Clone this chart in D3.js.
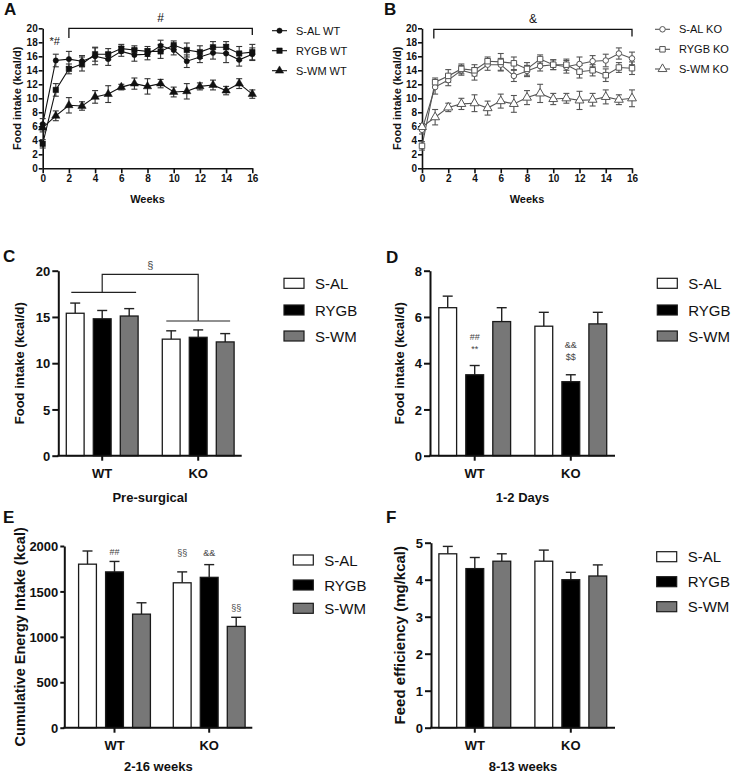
<!DOCTYPE html>
<html><head><meta charset="utf-8">
<script src="https://cdn.jsdelivr.net/npm/d3@7/dist/d3.min.js"></script>
<style>
body{margin:0;background:#fff}
svg text{font-family:"Liberation Sans",Arial,sans-serif}
</style>
</head><body>
<svg id="c" width="731" height="774"></svg>
<script>
// ---------- DATA ----------
const weeks = [0,1,2,3,4,5,6,7,8,9,10,11,12,13,14,15,16];
const weekTicks = [0,2,4,6,8,10,12,14,16];
const intakeTicks = [0,2,4,6,8,10,12,14,16,18,20];

// Panel A (WT)
const alWT    = [6.3,15.4,15.6,15.3,16.0,15.6,16.7,16.2,16.3,17.5,16.9,15.3,15.9,16.5,16.4,15.5,16.3];
const alWTerr = [0.8,0.9,1.1,0.8,1.2,0.9,0.7,0.9,0.8,0.8,0.7,0.9,0.8,0.9,1.3,0.9,0.9];
const rygbWT    = [3.5,11.2,14.2,14.9,16.3,16.3,17.1,16.9,16.7,16.7,17.6,16.9,16.6,17.3,17.3,16.4,16.6];
const rygbWTerr = [0.6,0.9,0.7,1.0,1.0,0.8,0.6,0.6,0.7,1.0,0.6,1.0,0.9,0.8,0.8,1.0,1.1];
const wmWT    = [5.8,7.5,9.0,8.9,10.2,10.6,11.6,12.1,11.7,12.1,10.9,11.0,11.7,11.9,11.1,12.1,10.6];
const wmWTerr = [0.6,0.7,1.1,0.6,0.9,1.2,0.4,0.8,1.1,0.6,0.7,1.1,0.5,0.7,0.6,0.7,0.6];
const legendA = ["S-AL WT","RYGB WT","S-WM WT"];

// Panel B (KO)
const alKO    = [5.5,11.6,12.6,14.0,13.5,14.8,14.8,13.2,13.9,14.6,14.8,14.5,14.9,15.3,15.4,16.4,15.7];
const alKOerr = [0.6,1.0,0.8,0.7,0.9,0.8,0.9,0.8,0.8,0.7,0.7,0.9,1.0,0.8,0.9,0.8,0.9];
const rygbKO    = [3.2,12.3,13.2,14.2,14.0,15.3,15.2,15.0,14.2,15.6,14.8,14.8,13.8,14.0,13.3,14.4,14.3];
const rygbKOerr = [0.6,0.6,0.9,0.7,0.8,0.6,1.2,0.9,0.9,0.6,0.7,0.8,0.9,0.8,0.9,0.7,0.9];
const wmKO    = [5.9,7.3,8.7,9.2,9.3,8.6,9.6,9.2,10.1,10.7,9.9,10.0,9.7,9.8,10.2,9.8,10.0];
const wmKOerr = [0.5,1.1,0.6,0.8,1.2,1.0,1.0,1.2,1.0,1.3,0.8,0.7,1.3,0.9,1.0,0.7,1.2];
const legendB = ["S-AL KO","RYGB KO","S-WM KO"];

// Bar panels
const groups = ["WT","KO"];
const barSeries = ["S-AL","RYGB","S-WM"];
const preSurgical    = [[15.4,14.8,15.1],[12.6,12.8,12.3]];
const preSurgicalErr = [[1.1,0.9,0.8],[0.9,0.8,0.9]];
const days12    = [[6.4,3.5,5.8],[5.6,3.2,5.7]];
const days12Err = [[0.5,0.4,0.6],[0.6,0.3,0.5]];
const cumEnergy    = [[1800,1715,1250],[1595,1655,1115]];
const cumEnergyErr = [[145,115,125],[120,140,100]];
const feedEff    = [[4.7,4.3,4.5],[4.5,4.0,4.1]];
const feedEffErr = [[0.2,0.3,0.2],[0.3,0.2,0.3]];
const ticksC = [0,5,10,15,20];
const ticksD = [0,2,4,6,8];
const ticksE = [0,500,1000,1500,2000];
const ticksF = [0,1,2,3,4,5];

// ---------- DRAW ----------
const svg = d3.select("#c");
const FONT = '"Liberation Sans",Arial,sans-serif';
const plain = d => String(d);

function label(x, y, t, size, opts={}) {
  const el = svg.append("text").attr("x", x).attr("y", y).text(t)
    .attr("font-size", size).attr("font-weight", opts.weight || "bold")
    .attr("fill", opts.fill || "#111")
    .attr("text-anchor", opts.anchor || "middle");
  if (opts.rotate) el.attr("transform", `rotate(-90,${x},${y})`);
  return el;
}

function styleAxis(g, w, fs) {
  g.select(".domain").attr("stroke", "#111").attr("stroke-width", w);
  g.selectAll(".tick line").attr("stroke", "#111").attr("stroke-width", w);
  g.selectAll(".tick text").attr("font-size", fs).attr("font-weight", "bold")
    .attr("fill", "#111").attr("font-family", FONT);
}

const shapes = [d3.symbolCircle, d3.symbolSquare, d3.symbolTriangle];

function linePanel(cfg) {
  const x = d3.scaleLinear().domain([0,16]).range([cfg.x0, cfg.x1]);
  const y = d3.scaleLinear().domain([0,20]).range([cfg.y0, cfg.y1]);
  const g = svg.append("g");
  const ax = g.append("g").attr("transform", `translate(0,${cfg.y0})`)
    .call(d3.axisBottom(x).tickValues(weekTicks).tickFormat(plain).tickSize(5).tickSizeOuter(0).tickPadding(2));
  styleAxis(ax, 1.6, 10);
  const ay = g.append("g").attr("transform", `translate(${cfg.x0},0)`)
    .call(d3.axisLeft(y).tickValues(intakeTicks).tickFormat(plain).tickSize(4).tickSizeOuter(0).tickPadding(1));
  styleAxis(ay, 1.6, 10);
  ay.selectAll(".tick text").attr("dy", "0.34em");

  const line = d3.line().x((d,i) => x(weeks[i])).y(d => y(d));
  cfg.series.forEach((s, si) => {
    g.append("path").datum(s.v).attr("d", line).attr("fill", "none")
      .attr("stroke", cfg.stroke).attr("stroke-width", 1.1);
  });
  cfg.series.forEach((s, si) => {
    s.v.forEach((v, i) => {
      const cx = x(weeks[i]);
      const e = s.e[i];
      g.append("line").attr("x1", cx).attr("x2", cx).attr("y1", y(v - e)).attr("y2", y(v + e))
        .attr("stroke", cfg.errStroke).attr("stroke-width", 1.1);
      [v - e, v + e].forEach(w => g.append("line").attr("x1", cx - 3).attr("x2", cx + 3)
        .attr("y1", y(w)).attr("y2", y(w)).attr("stroke", cfg.errStroke).attr("stroke-width", 1.1));
    });
  });
  cfg.series.forEach((s, si) => {
    s.v.forEach((v, i) => {
      g.append("path").attr("d", d3.symbol().type(shapes[si]).size(cfg.sizes[si])())
        .attr("transform", `translate(${x(weeks[i])},${y(v)})`)
        .attr("fill", cfg.fill).attr("stroke", cfg.stroke).attr("stroke-width", cfg.open ? 1 : 0.5);
    });
  });
  // legend
  cfg.legend.forEach((name, i) => {
    const ly = cfg.legY[i];
    g.append("line").attr("x1", cfg.legX).attr("x2", cfg.legX + 15).attr("y1", ly).attr("y2", ly)
      .attr("stroke", cfg.stroke).attr("stroke-width", 1.1);
    g.append("path").attr("d", d3.symbol().type(shapes[i]).size(cfg.sizes[i])())
      .attr("transform", `translate(${cfg.legX + 7.5},${ly})`)
      .attr("fill", cfg.fill).attr("stroke", cfg.stroke).attr("stroke-width", cfg.open ? 1 : 0.5);
    g.append("text").attr("x", cfg.legX + 24).attr("y", ly + 4).text(name)
      .attr("font-size", 11).attr("fill", "#111");
  });
  // bracket
  const b = cfg.bracket;
  g.append("path").attr("d", `M${x(b.from)},${b.yl} V${b.top} H${x(16)} V${b.yr}`)
    .attr("fill", "none").attr("stroke", "#111").attr("stroke-width", 1.3);
  label((x(b.from) + x(16)) / 2, b.top - 6, b.mark, 12, {weight: "normal"});
  // titles
  label((cfg.x0 + cfg.x1) / 2, cfg.y0 + 35, "Weeks", 11);
  label(cfg.yLabX, (cfg.y0 + cfg.y1) / 2, "Food intake (kcal/d)", 11, {rotate: true});
  label(cfg.panelX, 15, cfg.panel, 17, {anchor: "start"});
  return {x, y, g};
}

const pA = linePanel({
  x0: 42.7, x1: 252.3, y0: 168.3, y1: 28.3, stroke: "#111", errStroke: "#333", fill: "#111", open: false,
  sizes: [22, 30, 30],
  series: [{v: alWT, e: alWTerr}, {v: rygbWT, e: rygbWTerr}, {v: wmWT, e: wmWTerr}],
  legend: legendA, legX: 272, legY: [30.7, 50.7, 70.7],
  bracket: {from: 2, top: 28.3, yl: 38, yr: 35, mark: "#"},
  yLabX: 21, panel: "A", panelX: 4
});
label(pA.x(1) - 1, 45, "*#", 11, {weight: "normal"});

linePanel({
  x0: 422, x1: 632, y0: 168.3, y1: 28.3, stroke: "#555", errStroke: "#555", fill: "#fff", open: true,
  sizes: [24, 30, 34],
  series: [{v: alKO, e: alKOerr}, {v: rygbKO, e: rygbKOerr}, {v: wmKO, e: wmKOerr}],
  legend: legendB, legX: 655, legY: [29.3, 49.3, 69],
  bracket: {from: 0.9, top: 29.3, yl: 38.5, yr: 36.5, mark: "&"},
  yLabX: 401, panel: "B", panelX: 384
});

const barFill = ["#ffffff", "#000000", "#777777"];

function barPanel(cfg) {
  const y = d3.scaleLinear().domain([0, cfg.max]).range([cfg.y0, cfg.y1]);
  const x = d3.scalePoint().domain(groups).range([cfg.c0, cfg.c1]);
  const inner = d3.scaleBand().domain(barSeries).range([-40.5, 40.5]).paddingInner(0.34).paddingOuter(0.17);
  const g = svg.append("g");
  groups.forEach((gr, gi) => {
    barSeries.forEach((s, si) => {
      const v = cfg.vals[gi][si], e = cfg.errs[gi][si];
      const bx = x(gr) + inner(s), bw = inner.bandwidth(), cx = bx + bw / 2;
      g.append("line").attr("x1", cx).attr("x2", cx).attr("y1", y(v)).attr("y2", y(v + e))
        .attr("stroke", "#222").attr("stroke-width", 1.4);
      g.append("line").attr("x1", cx - 5).attr("x2", cx + 5).attr("y1", y(v + e)).attr("y2", y(v + e))
        .attr("stroke", "#222").attr("stroke-width", 1.4);
      g.append("rect").attr("x", bx).attr("y", y(v)).attr("width", bw).attr("height", y(0) - y(v))
        .attr("fill", barFill[si]).attr("stroke", "#1a1a1a").attr("stroke-width", 1.3);
    });
  });
  const ay = g.append("g").attr("transform", `translate(${cfg.x0},0)`)
    .call(d3.axisLeft(y).tickValues(cfg.ticks).tickFormat(plain).tickSize(cfg.tickLen).tickSizeOuter(0).tickPadding(2));
  styleAxis(ay, 2, 13);
  ay.selectAll(".tick text").attr("dy", "0.36em");
  g.append("line").attr("x1", cfg.x0 - 1).attr("x2", cfg.x1).attr("y1", cfg.y0).attr("y2", cfg.y0)
    .attr("stroke", "#111").attr("stroke-width", 2);
  groups.forEach(gr => {
    g.append("line").attr("x1", x(gr)).attr("x2", x(gr)).attr("y1", cfg.y0).attr("y2", cfg.y0 + 5)
      .attr("stroke", "#111").attr("stroke-width", 2);
    label(x(gr), cfg.y0 + 22, gr, 13);
  });
  label((cfg.x0 + cfg.x1) / 2, cfg.titleY, cfg.title, 13);
  label(cfg.yLabX, (cfg.y0 + cfg.y1) / 2, cfg.yLabel, cfg.yLabSize, {rotate: true});
  label(cfg.panelX, cfg.panelY, cfg.panel, 17, {anchor: "start"});
  barSeries.forEach((s, si) => {
    const ly = cfg.legY[si];
    g.append("rect").attr("x", cfg.legX).attr("y", ly - 5).attr("width", 20).attr("height", 10)
      .attr("fill", barFill[si]).attr("stroke", "#1a1a1a").attr("stroke-width", 1.2);
    g.append("text").attr("x", cfg.legX + 31).attr("y", ly + 5.5).text(s)
      .attr("font-size", 15).attr("fill", "#111");
  });
  return {x, y, inner, g};
}

const pC = barPanel({
  x0: 58.3, x1: 241.7, y0: 455.7, y1: 270.7, max: 20, ticks: ticksC, tickLen: 6, c0: 102.2, c1: 198.2,
  vals: preSurgical, errs: preSurgicalErr, title: "Pre-surgical", titleY: 502,
  yLabel: "Food intake (kcal/d)", yLabX: 24, yLabSize: 13, panel: "C", panelX: 3, panelY: 262,
  legX: 284, legY: [283.3, 310, 336]
});
// significance bracket C
(function(){
  const {x, inner, g} = pC;
  const wl = x("WT") + inner("S-AL") + 5, wr = x("WT") + inner("S-WM") + inner.bandwidth() - 2;
  const kl = x("KO") + inner("S-AL") + 4, kr = x("KO") + inner("S-WM") + inner.bandwidth() - 4;
  const wm = x("WT"), km = x("KO");
  g.append("line").attr("x1", wl).attr("x2", wr).attr("y1", 292.3).attr("y2", 292.3).attr("stroke", "#222").attr("stroke-width", 1.2);
  g.append("line").attr("x1", kl).attr("x2", kr).attr("y1", 321).attr("y2", 321).attr("stroke", "#222").attr("stroke-width", 1.2);
  g.append("path").attr("d", `M${wm},292.3 V274.3 H${km} V321`).attr("fill", "none").attr("stroke", "#222").attr("stroke-width", 1.2);
  label((wm + km) / 2, 269, "§", 11, {weight: "normal", fill: "#444"});
})();

const pD = barPanel({
  x0: 430, x1: 615, y0: 455.7, y1: 270.7, max: 8, ticks: ticksD, tickLen: 6, c0: 474.7, c1: 570.8,
  vals: days12, errs: days12Err, title: "1-2 Days", titleY: 502,
  yLabel: "Food intake (kcal/d)", yLabX: 404, yLabSize: 13, panel: "D", panelX: 386, panelY: 263,
  legX: 657.3, legY: [283.3, 310, 336]
});
(function(){
  const {x, inner} = pD;
  const cw = x("WT") + inner("RYGB") + inner.bandwidth() / 2;
  const ck = x("KO") + inner("RYGB") + inner.bandwidth() / 2;
  label(cw, 340, "##", 9, {weight: "normal", fill: "#444"});
  label(cw, 352, "**", 9, {weight: "normal", fill: "#444"});
  label(ck, 348, "&&", 9, {weight: "normal", fill: "#444"});
  label(ck, 360, "$$", 9, {weight: "normal", fill: "#444"});
})();

const pE = barPanel({
  x0: 64.3, x1: 252.3, y0: 727.7, y1: 546, max: 2000, ticks: ticksE, tickLen: 4, c0: 114.5, c1: 209.2,
  vals: cumEnergy, errs: cumEnergyErr, title: "2-16 weeks", titleY: 771,
  yLabel: "Cumulative Energy Intake (kcal)", yLabX: 25, yLabSize: 14.5, panel: "E", panelX: 3, panelY: 523,
  legX: 293.3, legY: [560, 585, 608.3]
});
(function(){
  const {x, inner} = pE;
  const c = (gr, s) => x(gr) + inner(s) + inner.bandwidth() / 2;
  label(c("WT","RYGB"), 555, "##", 9, {weight: "normal", fill: "#444"});
  label(c("KO","S-AL"), 556, "§§", 9, {weight: "normal", fill: "#444"});
  label(c("KO","RYGB"), 556, "&&", 9, {weight: "normal", fill: "#444"});
  label(c("KO","S-WM"), 611, "§§", 9, {weight: "normal", fill: "#444"});
})();

barPanel({
  x0: 431, x1: 615, y0: 727.7, y1: 542.7, max: 5, ticks: ticksF, tickLen: 6, c0: 474.8, c1: 570.8,
  vals: feedEff, errs: feedEffErr, title: "8-13 weeks", titleY: 771,
  yLabel: "Feed efficiency (mg/kcal)", yLabX: 405, yLabSize: 15, panel: "F", panelX: 386, panelY: 523,
  legX: 656.7, legY: [556.7, 581.7, 606.7]
});
</script>
</body></html>
